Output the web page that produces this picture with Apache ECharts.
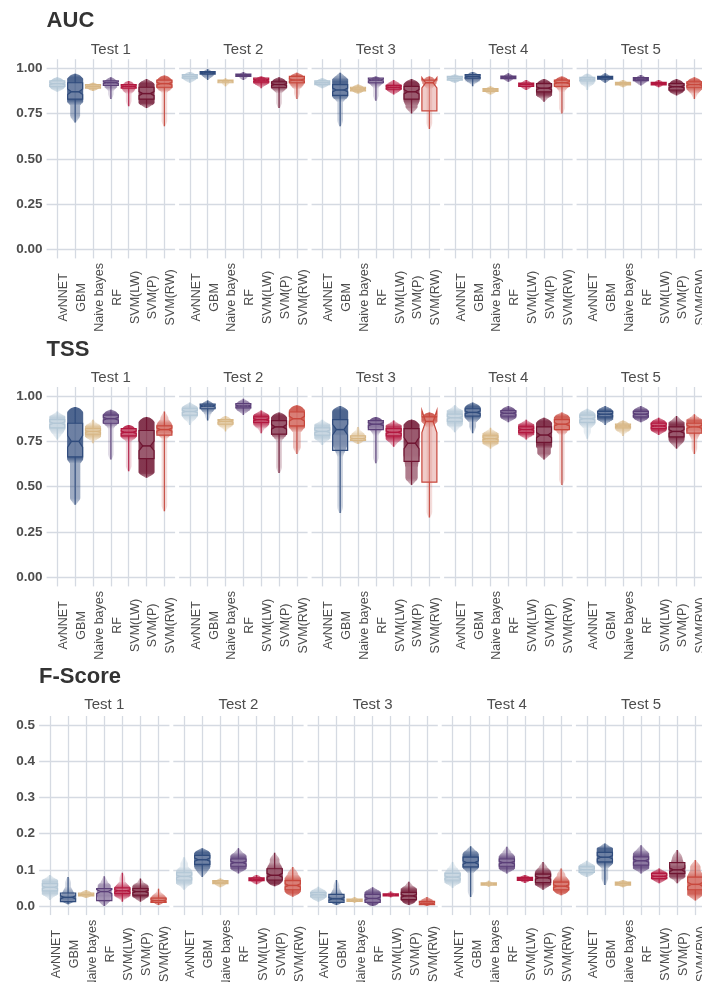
<!DOCTYPE html>
<html>
<head>
<meta charset="utf-8">
<script src="https://cdn.jsdelivr.net/npm/echarts@6/dist/echarts.min.js"></script>
<style>
  html, body { margin: 0; padding: 0; background: #ffffff; }
  #chart { width: 702px; height: 982px; }
</style>
</head>
<body>
<div id="chart"></div>
<script>
// Models compared in every test, and their fill colours
const models = ['AvNNET', 'GBM', 'Naive bayes', 'RF', 'SVM(LW)', 'SVM(P)', 'SVM(RW)'];
const tests = ['Test 1', 'Test 2', 'Test 3', 'Test 4', 'Test 5'];
const modelColors = ['#b3c7d6', '#2f4b7c', '#d8b785', '#5b3f78', '#b3173f', '#6f1431', '#c8473c'];

// Each row: [min, lower quartile, median, upper quartile, max] per model
const aucTest1 = [
  [0.87, 0.90, 0.915, 0.93, 0.95],
  [0.70, 0.83, 0.87, 0.92, 0.97],
  [0.875, 0.89, 0.90, 0.91, 0.92],
  [0.83, 0.905, 0.92, 0.93, 0.95],
  [0.79, 0.89, 0.90, 0.91, 0.93],
  [0.78, 0.83, 0.86, 0.895, 0.94],
  [0.68, 0.895, 0.915, 0.935, 0.96]
];
const aucTest2 = [
  [0.92, 0.945, 0.955, 0.965, 0.98],
  [0.935, 0.968, 0.975, 0.982, 0.995],
  [0.90, 0.92, 0.93, 0.935, 0.945],
  [0.935, 0.955, 0.962, 0.968, 0.98],
  [0.89, 0.925, 0.935, 0.945, 0.955],
  [0.78, 0.895, 0.91, 0.925, 0.95],
  [0.83, 0.92, 0.935, 0.955, 0.975]
];
const aucTest3 = [
  [0.89, 0.91, 0.92, 0.93, 0.945],
  [0.68, 0.85, 0.88, 0.91, 0.975],
  [0.86, 0.875, 0.885, 0.895, 0.91],
  [0.82, 0.92, 0.935, 0.945, 0.955],
  [0.855, 0.885, 0.895, 0.905, 0.935],
  [0.75, 0.83, 0.87, 0.90, 0.94],
  [0.665, 0.765, 0.92, 0.935, 0.955]
];
const aucTest4 = [
  [0.92, 0.935, 0.945, 0.955, 0.965],
  [0.90, 0.945, 0.955, 0.965, 0.98],
  [0.855, 0.872, 0.88, 0.888, 0.90],
  [0.925, 0.943, 0.95, 0.957, 0.972],
  [0.88, 0.90, 0.91, 0.918, 0.935],
  [0.815, 0.87, 0.89, 0.915, 0.94],
  [0.75, 0.90, 0.92, 0.935, 0.955]
];
const aucTest5 = [
  [0.88, 0.93, 0.94, 0.95, 0.97],
  [0.92, 0.94, 0.948, 0.955, 0.972],
  [0.895, 0.908, 0.915, 0.922, 0.935],
  [0.905, 0.932, 0.94, 0.948, 0.963],
  [0.895, 0.908, 0.915, 0.922, 0.935],
  [0.85, 0.88, 0.898, 0.915, 0.94],
  [0.83, 0.895, 0.91, 0.925, 0.95]
];

const tssTest1 = [
  [0.76, 0.825, 0.85, 0.87, 0.915],
  [0.40, 0.665, 0.75, 0.85, 0.94],
  [0.74, 0.79, 0.805, 0.82, 0.87],
  [0.65, 0.85, 0.875, 0.895, 0.925],
  [0.585, 0.78, 0.80, 0.82, 0.84],
  [0.55, 0.655, 0.725, 0.81, 0.885],
  [0.365, 0.785, 0.815, 0.835, 0.915]
];
const tssTest2 = [
  [0.84, 0.895, 0.915, 0.93, 0.965],
  [0.865, 0.93, 0.945, 0.955, 0.975],
  [0.805, 0.845, 0.86, 0.87, 0.89],
  [0.895, 0.935, 0.945, 0.958, 0.985],
  [0.795, 0.855, 0.87, 0.885, 0.92],
  [0.575, 0.79, 0.83, 0.865, 0.91],
  [0.68, 0.835, 0.875, 0.912, 0.95]
];
const tssTest3 = [
  [0.73, 0.785, 0.805, 0.825, 0.87],
  [0.355, 0.70, 0.815, 0.87, 0.945],
  [0.735, 0.755, 0.765, 0.78, 0.83],
  [0.63, 0.815, 0.845, 0.865, 0.885],
  [0.72, 0.78, 0.80, 0.82, 0.865],
  [0.51, 0.64, 0.74, 0.82, 0.87],
  [0.33, 0.525, 0.86, 0.885, 0.91]
];
const tssTest4 = [
  [0.80, 0.86, 0.88, 0.90, 0.95],
  [0.795, 0.89, 0.91, 0.93, 0.965],
  [0.71, 0.75, 0.765, 0.78, 0.825],
  [0.855, 0.89, 0.905, 0.92, 0.945],
  [0.76, 0.80, 0.815, 0.83, 0.87],
  [0.65, 0.745, 0.785, 0.83, 0.88],
  [0.51, 0.815, 0.845, 0.87, 0.91]
];
const tssTest5 = [
  [0.765, 0.855, 0.875, 0.895, 0.93],
  [0.84, 0.885, 0.90, 0.915, 0.945],
  [0.78, 0.825, 0.835, 0.845, 0.865],
  [0.855, 0.885, 0.90, 0.915, 0.945],
  [0.785, 0.82, 0.835, 0.85, 0.88],
  [0.71, 0.775, 0.805, 0.83, 0.89],
  [0.68, 0.795, 0.83, 0.85, 0.90]
];

const fTest1 = [
  [0.017, 0.042, 0.052, 0.062, 0.086],
  [0.005, 0.012, 0.024, 0.036, 0.08],
  [0.022, 0.028, 0.032, 0.036, 0.044],
  [0.0, 0.015, 0.04, 0.048, 0.082],
  [0.012, 0.035, 0.042, 0.05, 0.092],
  [0.012, 0.03, 0.04, 0.048, 0.076],
  [0.003, 0.01, 0.015, 0.022, 0.048]
];
const fTest2 = [
  [0.045, 0.072, 0.082, 0.092, 0.135],
  [0.08, 0.115, 0.128, 0.14, 0.16],
  [0.052, 0.062, 0.066, 0.07, 0.076],
  [0.09, 0.11, 0.12, 0.13, 0.16],
  [0.06, 0.07, 0.074, 0.078, 0.086],
  [0.055, 0.072, 0.085, 0.103, 0.147],
  [0.026, 0.045, 0.057, 0.07, 0.108]
];
const fTest3 = [
  [0.012, 0.025, 0.031, 0.037, 0.053],
  [0.003, 0.01, 0.02, 0.032, 0.072],
  [0.009, 0.013, 0.016, 0.019, 0.025],
  [0.0, 0.01, 0.021, 0.032, 0.052],
  [0.024, 0.028, 0.031, 0.034, 0.04],
  [0.003, 0.018, 0.028, 0.038, 0.067],
  [0.0, 0.004, 0.008, 0.013, 0.025]
];
const fTest4 = [
  [0.05, 0.072, 0.08, 0.09, 0.122],
  [0.025, 0.108, 0.12, 0.135, 0.165],
  [0.053, 0.058, 0.061, 0.064, 0.07],
  [0.09, 0.11, 0.12, 0.13, 0.164],
  [0.064, 0.071, 0.075, 0.079, 0.086],
  [0.045, 0.065, 0.078, 0.088, 0.122],
  [0.03, 0.045, 0.055, 0.066, 0.104]
];
const fTest5 = [
  [0.08, 0.093, 0.10, 0.108, 0.125],
  [0.058, 0.122, 0.135, 0.148, 0.173],
  [0.052, 0.058, 0.062, 0.066, 0.072],
  [0.09, 0.113, 0.125, 0.136, 0.168],
  [0.063, 0.076, 0.082, 0.09, 0.104],
  [0.063, 0.09, 0.10, 0.12, 0.155],
  [0.015, 0.045, 0.06, 0.08, 0.127]
];

// Tick values and labels of the two kinds of y scale
const unitTicks = [0, 0.25, 0.5, 0.75, 1];
const unitTickLabels = ['0.00', '0.25', '0.50', '0.75', '1.00'];
const fTicks = [0, 0.1, 0.2, 0.3, 0.4, 0.5];
const fTickLabels = ['0.0', '0.1', '0.2', '0.3', '0.4', '0.5'];

const metricRows = [
  { name: 'AUC', tests: [aucTest1, aucTest2, aucTest3, aucTest4, aucTest5], ticks: unitTicks, labels: unitTickLabels },
  { name: 'TSS', tests: [tssTest1, tssTest2, tssTest3, tssTest4, tssTest5], ticks: unitTicks, labels: unitTickLabels },
  { name: 'F-Score', tests: [fTest1, fTest2, fTest3, fTest4, fTest5], ticks: fTicks, labels: fTickLabels }
];

// Panel geometry (pixels)
const rowLayout = [
  { top: 59.2, height: 199.2, left: 46.6, width: 128.5, step: 132.5, titleY: 21, stripY: 50 },
  { top: 387, height: 199.4, left: 46.6, width: 128.5, step: 132.5, titleY: 350, stripY: 378 },
  { top: 716, height: 199.1, left: 39.1, width: 130.3, step: 134.2, titleY: 677, stripY: 705 }
];

const FONT = "'Liberation Sans', Arial, Helvetica, sans-serif";
const GRID_COLOR = '#d5dae2';

function hexToRgb(hex) {
  const n = parseInt(hex.slice(1), 16);
  return [(n >> 16) & 255, (n >> 8) & 255, n & 255];
}
function rgba(hex, a) {
  const c = hexToRgb(hex);
  return 'rgba(' + c[0] + ',' + c[1] + ',' + c[2] + ',' + a.toFixed(3) + ')';
}
function tint(hex, keep, a) {
  const c = hexToRgb(hex).map(v => Math.round(v * keep + 255 * (1 - keep)));
  return 'rgba(' + c[0] + ',' + c[1] + ',' + c[2] + ',' + a + ')';
}

// Draws one model: point cloud, whisker, notched box and median
function renderGroup(params, api) {
  const k = api.value(0);
  const q = [api.value(1), api.value(2), api.value(3), api.value(4), api.value(5)];
  const lo = q[0], q1 = q[1], med = q[2], q3 = q[3], hi = q[4];
  const color = modelColors[k];
  const unit = api.size([1, 0])[0];
  const pxPerY = api.size([0, 1])[1];
  const xc = api.coord([k, med])[0];
  const py = v => api.coord([k, v])[1];

  const blobHalf = 0.45 * unit;
  const boxHalf = 0.42 * unit;
  const iqr = Math.max(q3 - q1, 1e-4);

  // a quarter of the points lies between consecutive quantiles
  const segDens = [];
  for (let i = 0; i < 4; i++) segDens.push(0.25 / Math.max(q[i + 1] - q[i], 1e-4));
  const maxDens = Math.max.apply(null, segDens);
  const dens = v => {
    if (v < lo || v > hi) return 0;
    for (let i = 0; i < 4; i++) if (v <= q[i + 1]) return segDens[i];
    return segDens[3];
  };
  const h = 6 / pxPerY;
  const smooth = v => {
    let s = 0;
    for (let j = -6; j <= 6; j++) s += dens(v + h * j / 6);
    return s / 13;
  };

  // cloud outline and a vertical opacity ramp that follows the density
  const yTop = py(hi), yBot = py(lo);
  const steps = 90;
  const right = [], left = [], stops = [];
  for (let s = 0; s <= steps; s++) {
    const v = hi - (hi - lo) * s / steps;
    const yy = py(v);
    const r = smooth(v) / maxDens;
    const endDist = Math.min(yy - yTop, yBot - yy);
    const taper = Math.min(1, Math.sqrt(Math.max(endDist, 0) / 5));
    const w = blobHalf * Math.max(0.12, Math.max(0.35, Math.min(1, 2.0 * r)) * taper);
    right.push([xc + w, yy]);
    left.unshift([xc - w, yy]);
    stops.push({ offset: s / steps, color: rgba(color, 0.85 * Math.max(0.22, Math.min(1, 1.7 * r))) });
  }

  // notched box
  const notch = 0.17 * iqr;
  const yU = py(q3), yL = py(q1), yM = py(med), nU = py(med + notch), nL = py(med - notch);
  const boxPts = [
    [xc - boxHalf, yU], [xc + boxHalf, yU], [xc + boxHalf, nU], [xc + boxHalf * 0.5, yM],
    [xc + boxHalf, nL], [xc + boxHalf, yL], [xc - boxHalf, yL], [xc - boxHalf, nL],
    [xc - boxHalf * 0.5, yM], [xc - boxHalf, nU]
  ];

  return {
    type: 'group',
    children: [
      { type: 'line', shape: { x1: xc, y1: yTop, x2: xc, y2: yBot },
        style: { stroke: rgba(color, 0.9), lineWidth: 1.2 } },
      { type: 'polygon', shape: { points: right.concat(left) },
        style: { fill: { type: 'linear', x: 0, y: 0, x2: 0, y2: 1, colorStops: stops, global: false } } },
      { type: 'polygon', shape: { points: boxPts },
        style: { fill: tint(color, 0.55, 0.5), stroke: color, lineWidth: 1.2, lineJoin: 'miter' } },
      { type: 'line', shape: { x1: xc - boxHalf * 0.5, y1: yM, x2: xc + boxHalf * 0.5, y2: yM },
        style: { stroke: color, lineWidth: 1.5 } }
    ]
  };
}

const grids = [], xAxes = [], yAxes = [], series = [], graphics = [];
const catValues = models.map((m, i) => i);

metricRows.forEach((row, r) => {
  const L = rowLayout[r];
  const lo = row.ticks[0], hiT = row.ticks[row.ticks.length - 1];
  const pad = (hiT - lo) * 0.05;

  graphics.push({
    type: 'text', x: L.left, y: L.titleY,
    style: { text: row.name, fill: '#333333', fontFamily: FONT, fontSize: 22, fontWeight: 'bold',
             align: 'left', verticalAlign: 'middle' }
  });

  row.tests.forEach((stats, c) => {
    const idx = grids.length;
    const left = L.left + L.step * c;
    grids.push({ left: left, top: L.top, width: L.width, height: L.height,
                 containLabel: false, outerBoundsMode: 'none' });

    graphics.push({
      type: 'text', x: left + L.width / 2, y: L.stripY,
      style: { text: tests[c], fill: '#4d4d4d', fontFamily: FONT, fontSize: 15,
               align: 'center', verticalAlign: 'middle' }
    });

    xAxes.push({
      type: 'value', gridIndex: idx, min: -0.6, max: 6.6,
      axisLine: { show: false },
      axisTick: { show: false, customValues: catValues },
      splitLine: { show: true, lineStyle: { color: GRID_COLOR, width: 1.3 } },
      axisLabel: {
        customValues: catValues,
        formatter: v => models[Math.round(v)],
        rotate: 90, align: 'center', verticalAlign: 'top', margin: 39,
        fontFamily: FONT, fontSize: 12.5, color: '#4d4d4d'
      }
    });

    yAxes.push({
      type: 'value', gridIndex: idx, min: lo - pad, max: hiT + pad,
      axisLine: { show: false },
      axisTick: { show: false, customValues: row.ticks },
      splitLine: { show: true, lineStyle: { color: GRID_COLOR, width: 1.3 } },
      axisLabel: {
        show: c === 0,
        customValues: row.ticks,
        formatter: v => row.labels[row.ticks.findIndex(t => Math.abs(t - v) < 1e-9)],
        margin: 4, fontFamily: FONT, fontSize: 13.5, fontWeight: 'bold', color: '#4d4d4d'
      }
    });

    series.push({
      type: 'custom', xAxisIndex: idx, yAxisIndex: idx,
      renderItem: renderGroup,
      encode: { x: 0, y: [1, 2, 3, 4, 5] },
      data: stats.map((s, k) => [k].concat(s)),
      clip: false, silent: true
    });
  });
});

const chart = echarts.init(document.getElementById('chart'), null, { renderer: 'canvas' });
chart.setOption({
  animation: false,
  backgroundColor: '#ffffff',
  grid: grids,
  xAxis: xAxes,
  yAxis: yAxes,
  series: series,
  graphic: graphics
});
</script>
</body>
</html>
